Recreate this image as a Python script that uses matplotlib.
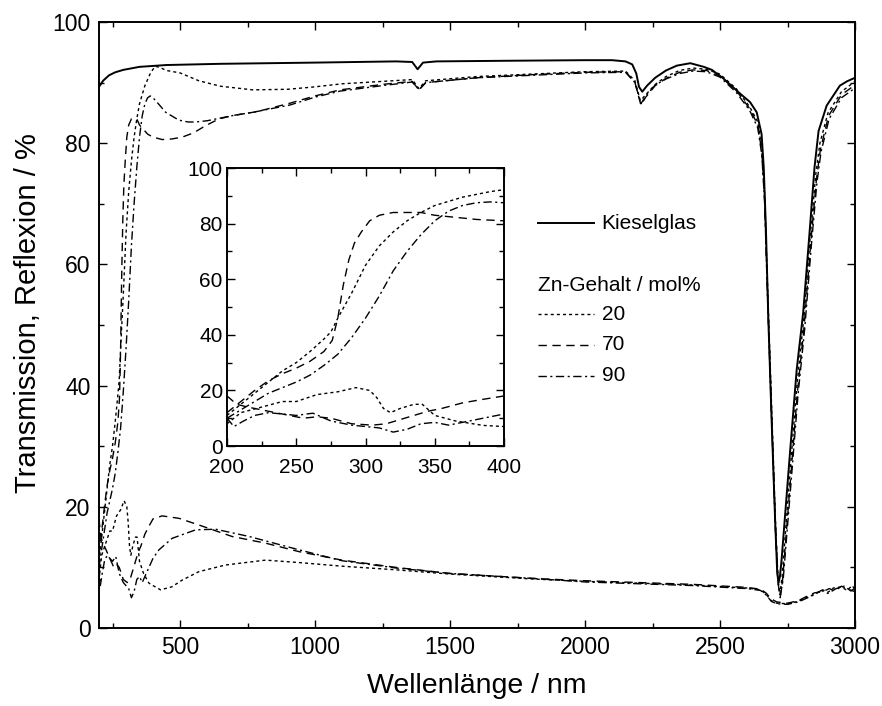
import numpy as np
import matplotlib
matplotlib.use("Agg")
import matplotlib.pyplot as plt
from matplotlib.ticker import MultipleLocator

plt.rcParams['font.family'] = ['Liberation Sans', 'DejaVu Sans']
plt.rcParams['lines.scale_dashes'] = False

# Kieselglas, Transmission
wl_glas = [200, 215, 237, 260, 290, 350, 450, 650, 1000, 1300, 1360, 1380, 1400, 1450, 1700,
           2000, 2100, 2150, 2175, 2190, 2200, 2212, 2230, 2260, 2300, 2340, 2390, 2440, 2470,
           2512, 2574, 2611, 2636, 2654, 2662, 2670, 2679, 2691, 2704, 2712, 2717, 2722, 2728,
           2759, 2784, 2808, 2833, 2850, 2865, 2895, 2944, 2970, 3000]
T_glas = [89.3, 90.3, 91.2, 91.7, 92.1, 92.6, 92.9, 93.1, 93.3, 93.5, 93.4, 92.2, 93.3, 93.5, 93.6,
          93.7, 93.7, 93.5, 93.0, 91.5, 89.3, 88.5, 89.5, 90.8, 92.0, 92.8, 93.2, 92.6, 92.1,
          90.7, 88.2, 86.8, 85.1, 81.5, 76.0, 66.0, 51.0, 34.5, 18.0, 9.0, 7.5, 8.5, 11.2,
          28.8, 42.6, 52.0, 66.0, 76.0, 82.0, 86.2, 89.5, 90.2, 90.8]

# Zn-Gehalt 20 mol%
wl_20 = [200, 210, 220, 230, 240, 250, 260, 270, 275, 280, 290, 300, 310, 320, 330, 340, 350,
         360, 370, 380, 390, 400, 410, 430, 450, 500, 570, 650, 770, 900, 1000, 1100, 1250,
         1360, 1385, 1410, 1600, 1800, 2000, 2150, 2185, 2205, 2225, 2260, 2300, 2350, 2400,
         2450, 2500, 2560, 2610, 2640, 2655, 2665, 2675, 2690, 2705, 2715, 2722, 2730, 2760,
         2785, 2810, 2835, 2855, 2870, 2900, 2950, 3000]
T_20 = [11, 15, 19, 23, 27, 30, 34, 38.5, 41, 46, 55, 65, 72, 77, 81, 84, 86.5,
        88, 89.5, 90.5, 91.5, 92.2, 92.7, 92.4, 92.0, 91.6, 90.3, 89.4, 88.8, 88.9, 89.3, 89.8, 90.2,
        90.5, 89.0, 90.3, 91.0, 91.4, 91.8, 91.9, 90.3, 87.0, 88.0, 89.7, 91.0, 92.0, 92.4,
        92.2, 91.4, 89.0, 86.0, 83.5, 79.0, 72.0, 58.0, 38.0, 18.0, 8.0, 5.5, 8.5, 26.0,
        40.0, 51.0, 65.0, 75.0, 80.0, 85.0, 88.5, 90.2]
R_20_wl = [200, 205, 210, 225, 240, 250, 265, 280, 293, 303, 308, 313, 318, 325, 335, 341, 350,
           365, 385, 400, 428, 470, 508, 570, 669, 817, 941, 1100, 1300, 1500, 1800, 2000, 2200,
           2400, 2600, 2650, 2670, 2690, 2710, 2750, 2790, 2820, 2850, 2880, 2900, 2920, 2950,
           2970, 2990, 3000]
R_20 = [8, 10, 12, 14, 16, 16, 18.5, 19.5, 21, 20, 17.5, 13.5, 12, 13.5, 15, 15, 11,
        9, 7.4, 7, 6.3, 6.8, 7.9, 9.3, 10.4, 11.2, 10.8, 10.2, 9.6, 8.9, 8.1, 7.7, 7.4,
        7.1, 6.6, 6.3, 5.6, 4.5, 4.1, 4.0, 4.4, 5.0, 5.6, 6.3, 5.9, 6.6, 6.8,
        6.2, 7.0, 6.3]

# Zn-Gehalt 70 mol%
wl_70 = [200, 210, 220, 230, 240, 250, 260, 270, 276, 280, 284, 288, 292, 297, 303, 310, 320,
         330, 340, 350, 360, 370, 380, 400, 434, 470, 508, 550, 595, 644, 700, 784, 907, 1000,
         1093, 1250, 1360, 1385, 1410, 1600, 1800, 2000, 2150, 2185, 2207, 2225, 2260, 2300,
         2350, 2400, 2450, 2500, 2560, 2610, 2640, 2655, 2665, 2675, 2690, 2705, 2715, 2723,
         2732, 2762, 2787, 2812, 2837, 2857, 2872, 2902, 2950, 3000]
T_70 = [12, 16, 20, 23.5, 26, 28, 30.5, 34, 38, 46, 58, 67, 73, 77, 81, 83, 84,
        84, 84, 83, 82.5, 82, 81.5, 81, 80.6, 80.7, 81, 81.7, 82.9, 84, 84.6, 85.2, 86.6, 87.8,
        88.8, 89.7, 90.2, 88.8, 90.0, 90.8, 91.3, 91.7, 91.8, 90.0, 86.3, 87.6, 89.5, 90.7,
        91.7, 92.1, 92.0, 91.1, 88.7, 85.7, 83.0, 78.5, 71.0, 57.0, 37.0, 17.0, 7.5, 5.0,
        8.0, 25.0, 39.0, 50.0, 64.0, 74.0, 79.0, 84.5, 88.0, 89.6]
R_70_wl = [200, 207, 215, 230, 245, 255, 265, 275, 290, 305, 315, 325, 335, 345, 355, 370, 385,
           400, 434, 496, 570, 693, 817, 941, 1100, 1300, 1500, 1800, 2000, 2200, 2400, 2600,
           2650, 2670, 2690, 2710, 2750, 2790, 2820, 2850, 2880, 2905, 2925, 2950, 2975, 3000]
R_70 = [18, 15, 14, 12.5, 11, 10, 10.5, 10, 8, 7.5, 8, 9.5, 11, 12.5, 13.5, 15.5, 16.8,
        18, 18.5, 18.1, 17, 15.1, 14, 12.6, 11.2, 10, 9, 8.2, 7.8, 7.5, 7.2, 6.7,
        6.4, 5.8, 4.8, 4.3, 4.1, 4.5, 5.2, 5.8, 6.0, 6.5, 6.1, 6.9, 6.4, 6.0]

# Zn-Gehalt 90 mol%
wl_90 = [200, 210, 220, 230, 240, 250, 260, 270, 280, 290, 300, 310, 320, 330, 340, 350, 360,
         370, 380, 390, 400, 420, 447, 496, 530, 558, 600, 644, 700, 770, 907, 1000, 1093, 1250,
         1360, 1385, 1410, 1600, 2000, 2150, 2185, 2207, 2225, 2260, 2300, 2350, 2400, 2450,
         2500, 2560, 2610, 2640, 2655, 2665, 2675, 2690, 2705, 2716, 2724, 2734, 2764, 2789,
         2814, 2839, 2859, 2874, 2904, 2950, 3000]
T_90 = [10, 13, 16, 19, 21, 23, 25.5, 29, 33, 39, 46, 54, 63, 70, 76, 81, 84.5,
        86.5, 87.5, 87.8, 87.5, 86.5, 85.1, 83.8, 83.5, 83.5, 83.7, 84.1, 84.6, 85.1, 86.3, 87.6, 88.6, 89.5,
        90.1, 88.8, 90.0, 90.8, 91.6, 91.7, 90.0, 86.5, 87.8, 89.6, 90.6, 91.5, 91.9, 91.8,
        90.9, 88.4, 85.4, 82.5, 78.0, 70.5, 56.0, 36.0, 16.5, 7.0, 5.5, 8.0, 24.5, 38.5,
        49.5, 63.5, 73.5, 78.5, 84.0, 87.5, 89.1]
R_90_wl = [200, 205, 212, 220, 230, 240, 250, 262, 275, 290, 300, 310, 320, 330, 340, 350, 360,
           370, 385, 400, 422, 471, 558, 632, 756, 941, 1100, 1300, 1500, 1800, 2000, 2200, 2400,
           2600, 2650, 2670, 2690, 2710, 2750, 2790, 2820, 2850, 2875, 2900, 2930, 2960, 2985, 3000]
R_90 = [10, 7, 9, 11, 12, 11.5, 11, 11.8, 9, 7.5, 7, 6.5, 5, 6, 8, 8.5, 7.5,
        8.5, 10, 11.5, 12.9, 14.8, 16.2, 16.3, 15.1, 12.9, 11.1, 9.9, 9, 8.2, 7.6, 7.3, 7.0,
        6.5, 6.2, 5.5, 4.4, 4.0, 3.9, 4.3, 4.9, 5.5, 6.2, 5.7, 6.5, 6.9, 6.1, 6.6]

DOT = (0, (2.2, 2.2))
DASH = (0, (6, 4))
DASHDOT = (0, (6, 2.5, 1.5, 2.5))
LW = 1.0

fig = plt.figure(figsize=(8.82, 7.06), dpi=100)
ax = fig.add_axes([99/882, 78/706, 756/882, 606/706])

ax.plot(wl_glas, T_glas, color='k', lw=1.4, ls='-')
for wl, T, R_wl, R, ls in [(wl_20, T_20, R_20_wl, R_20, DOT),
                           (wl_70, T_70, R_70_wl, R_70, DASH),
                           (wl_90, T_90, R_90_wl, R_90, DASHDOT)]:
    ax.plot(wl, T, color='k', lw=LW, ls=ls)
    ax.plot(R_wl, R, color='k', lw=LW, ls=ls)

ax.set_xlim(200, 3000)
ax.set_ylim(0, 100)
ax.xaxis.set_major_locator(MultipleLocator(500))
ax.xaxis.set_minor_locator(MultipleLocator(250))
ax.yaxis.set_major_locator(MultipleLocator(20))
ax.yaxis.set_minor_locator(MultipleLocator(10))
ax.set_xlabel('Wellenlänge / nm', fontsize=20.5, labelpad=10)
ax.set_ylabel('Transmission, Reflexion / %', fontsize=21)
ax.yaxis.set_label_coords(-0.076, 0.52)


def style(a, fs, pad):
    a.tick_params(which='both', direction='in', top=True, right=True, labelsize=fs, pad=pad, width=1.0)
    a.tick_params(which='major', length=6)
    a.tick_params(which='minor', length=3.5)
    for s in a.spines.values():
        s.set_linewidth(1.4)


style(ax, 16.5, 6)

# Legende
x0, x1, xt = 0.581, 0.655, 0.665
ax.plot([x0, x1], [0.668, 0.668], transform=ax.transAxes, color='k', lw=1.4, ls='-')
ax.text(xt, 0.668, 'Kieselglas', transform=ax.transAxes, fontsize=15, va='center')
ax.text(x0, 0.566, 'Zn-Gehalt / mol%', transform=ax.transAxes, fontsize=15, va='center')
for yy, lab, ls in [(0.518, '20', DOT), (0.467, '70', DASH), (0.416, '90', DASHDOT)]:
    ax.plot([x0, x1], [yy, yy], transform=ax.transAxes, color='k', lw=LW, ls=ls)
    ax.text(xt, yy, lab, transform=ax.transAxes, fontsize=15, va='center')

# Einschub 200-400 nm
axi = fig.add_axes([227/882, 260/706, 277/882, 278/706])
for wl, T, R_wl, R, ls in [(wl_20, T_20, R_20_wl, R_20, DOT),
                           (wl_70, T_70, R_70_wl, R_70, DASH),
                           (wl_90, T_90, R_90_wl, R_90, DASHDOT)]:
    axi.plot(wl, T, color='k', lw=LW, ls=ls)
    axi.plot(R_wl, R, color='k', lw=LW, ls=ls)
axi.set_xlim(200, 400)
axi.set_ylim(0, 100)
axi.xaxis.set_major_locator(MultipleLocator(50))
axi.xaxis.set_minor_locator(MultipleLocator(25))
axi.yaxis.set_major_locator(MultipleLocator(20))
axi.yaxis.set_minor_locator(MultipleLocator(10))
style(axi, 15, 3)
axi.tick_params(axis='x', pad=8.5)

fig.savefig('out.png', dpi=100)
